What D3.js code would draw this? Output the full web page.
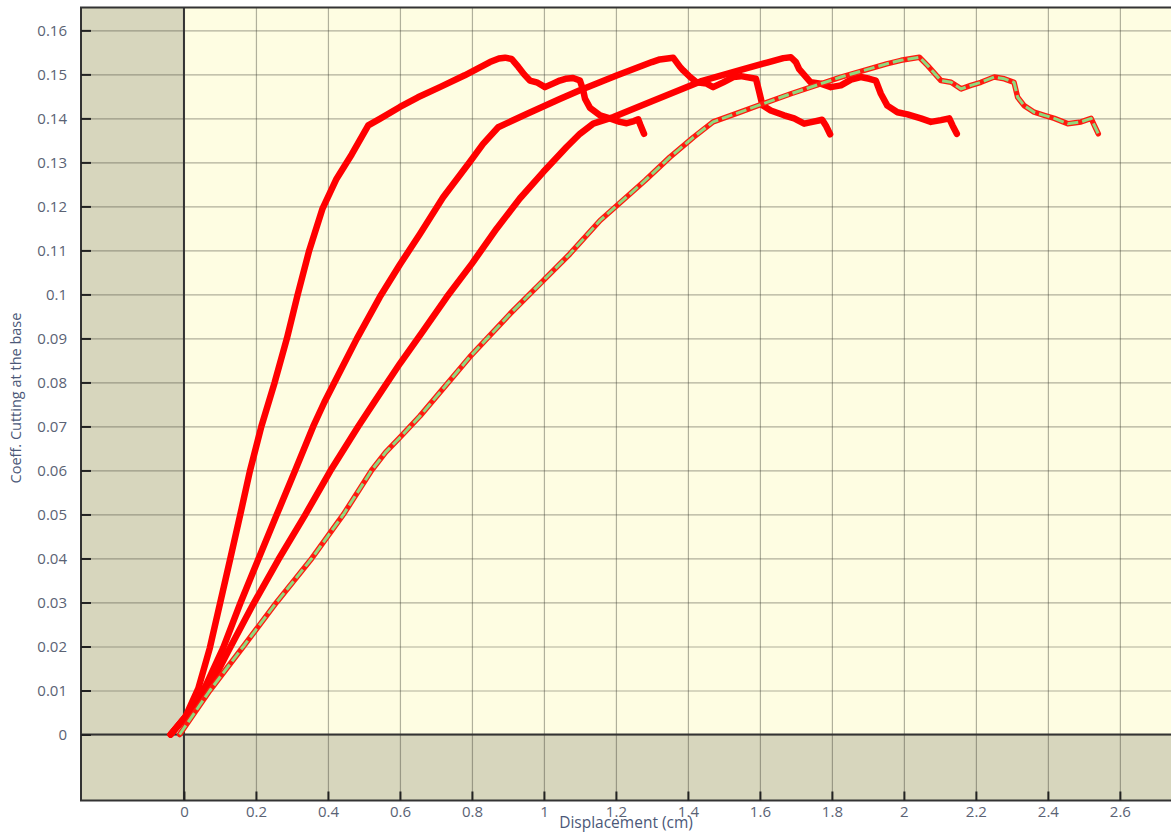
<!DOCTYPE html>
<html>
<head>
<meta charset="utf-8">
<script src="https://cdn.jsdelivr.net/npm/d3@7"></script>
<style>
  body { margin: 0; background: #ffffff; }
  svg { display: block; }
  text { font-family: "Open Sans", "Noto Sans", "DejaVu Sans", sans-serif; }
</style>
</head>
<body>
<svg id="chart" width="1171" height="836"></svg>
<script>
// Axis ticks and their labels
const xTicks = [0, 0.2, 0.4, 0.6, 0.8, 1, 1.2, 1.4, 1.6, 1.8, 2, 2.2, 2.4, 2.6];
const xTickLabels = ["0", "0.2", "0.4", "0.6", "0.8", "1", "1.2", "1.4", "1.6", "1.8", "2", "2.2", "2.4", "2.6"];
const yTicks = [0, 0.01, 0.02, 0.03, 0.04, 0.05, 0.06, 0.07, 0.08, 0.09, 0.1, 0.11, 0.12, 0.13, 0.14, 0.15, 0.16];
const yTickLabels = ["0", "0.01", "0.02", "0.03", "0.04", "0.05", "0.06", "0.07", "0.08", "0.09", "0.1", "0.11", "0.12", "0.13", "0.14", "0.15", "0.16"];
const xTitle = "Displacement (cm)";
const yTitle = "Coeff. Cutting at the base";

// Load–displacement runs: [displacement (cm), coefficient]
const run1 = [
  [-0.037, 0], [0.004, 0.004], [0.04, 0.0105], [0.072, 0.0197], [0.1, 0.0297], [0.128, 0.0397],
  [0.156, 0.0498], [0.183, 0.0598], [0.215, 0.07], [0.252, 0.08], [0.286, 0.09], [0.316, 0.1],
  [0.348, 0.11], [0.385, 0.1195], [0.424, 0.1263], [0.466, 0.1318], [0.512, 0.1384],
  [0.544, 0.1399], [0.6, 0.1426], [0.65, 0.1448], [0.711, 0.1471], [0.78, 0.1498], [0.85, 0.1528],
  [0.875, 0.1536], [0.892, 0.1538], [0.91, 0.1535], [0.929, 0.1517], [0.945, 0.15], [0.961, 0.1486],
  [0.98, 0.1482], [1.003, 0.1471], [1.025, 0.1479], [1.044, 0.1486], [1.06, 0.149], [1.081, 0.1492],
  [1.1, 0.1486], [1.109, 0.1464], [1.114, 0.1445], [1.128, 0.1424], [1.156, 0.1407], [1.183, 0.14],
  [1.211, 0.1392], [1.23, 0.1389], [1.25, 0.1394], [1.262, 0.1398], [1.268, 0.1385], [1.278, 0.1365]
];
const run2 = [
  [-0.037, 0], [0.004, 0.004], [0.06, 0.011], [0.109, 0.0197], [0.156, 0.0297], [0.206, 0.0397],
  [0.257, 0.0498], [0.308, 0.0598], [0.359, 0.07], [0.39, 0.0755], [0.44, 0.0835], [0.48, 0.0899],
  [0.544, 0.0994], [0.6, 0.1068], [0.656, 0.1138], [0.72, 0.1221], [0.794, 0.1301], [0.831, 0.1342],
  [0.873, 0.138], [0.952, 0.141], [1.044, 0.1444], [1.1, 0.1464], [1.2, 0.1497], [1.3, 0.1528],
  [1.322, 0.1534], [1.359, 0.1538], [1.378, 0.1517], [1.387, 0.1509], [1.406, 0.1494], [1.424, 0.1482],
  [1.452, 0.1479], [1.47, 0.1471], [1.498, 0.1482], [1.526, 0.1494], [1.547, 0.1496], [1.589, 0.149],
  [1.597, 0.1464], [1.607, 0.143], [1.63, 0.1418], [1.667, 0.1407], [1.695, 0.14], [1.723, 0.1388],
  [1.746, 0.1392], [1.773, 0.1397], [1.783, 0.1384], [1.795, 0.1364]
];
const run3 = [
  [-0.037, 0], [0.004, 0.004], [0.063, 0.0094], [0.128, 0.0197], [0.193, 0.0297], [0.262, 0.0397],
  [0.336, 0.0498], [0.406, 0.0598], [0.484, 0.07], [0.53, 0.0757], [0.6, 0.0843], [0.665, 0.0918],
  [0.73, 0.0994], [0.8, 0.107], [0.869, 0.115], [0.933, 0.1218], [0.998, 0.1278], [1.063, 0.1335],
  [1.1, 0.1365], [1.137, 0.1388], [1.193, 0.1403], [1.3, 0.1439], [1.435, 0.1484], [1.547, 0.151],
  [1.62, 0.1527], [1.665, 0.1537], [1.686, 0.1539], [1.7, 0.1528], [1.709, 0.1512], [1.741, 0.1482],
  [1.769, 0.1479], [1.797, 0.1471], [1.825, 0.1475], [1.853, 0.1488], [1.88, 0.1494], [1.904, 0.149],
  [1.922, 0.1486], [1.936, 0.1456], [1.954, 0.1429], [1.982, 0.1414], [2.01, 0.1409], [2.047, 0.14],
  [2.075, 0.1392], [2.103, 0.1396], [2.126, 0.14], [2.135, 0.1384], [2.147, 0.1365]
];
const run4 = [
  [-0.012, 0], [0.072, 0.01], [0.165, 0.02], [0.257, 0.03], [0.355, 0.04], [0.443, 0.05],
  [0.521, 0.06], [0.56, 0.0641], [0.6, 0.0675], [0.656, 0.0724], [0.794, 0.0858], [0.906, 0.0956],
  [0.989, 0.1024], [1.072, 0.1092], [1.156, 0.1168], [1.281, 0.1259], [1.35, 0.1312], [1.415, 0.1357],
  [1.47, 0.1392], [1.547, 0.1415], [1.686, 0.1456], [1.825, 0.1494], [1.952, 0.1524], [1.992, 0.1532],
  [2.043, 0.1539], [2.066, 0.152], [2.103, 0.1486], [2.131, 0.1482], [2.159, 0.1467], [2.186, 0.1475],
  [2.214, 0.1482], [2.251, 0.1494], [2.279, 0.149], [2.306, 0.1482], [2.316, 0.1448], [2.334, 0.1429],
  [2.362, 0.1414], [2.39, 0.1407], [2.418, 0.14], [2.455, 0.1388], [2.492, 0.1392], [2.52, 0.14],
  [2.529, 0.1384], [2.54, 0.1365]
];

const svg = d3.select("#chart");
const plot = { left: 81, top: 7.5, right: 1171, bottom: 800.5 };

const x = d3.scaleLinear().domain([-0.286, 2.742]).range([plot.left, plot.right]);
const y = d3.scaleLinear().domain([-0.015, 0.1652]).range([plot.bottom, plot.top]);

const khaki = "#d7d6bd";
const cream = "#fefde2";
const ink = "#333333";
const labelColor = "#5a6274";

// Backgrounds: khaki everywhere, cream in the positive quadrant
svg.append("rect")
  .attr("x", plot.left).attr("y", plot.top)
  .attr("width", plot.right - plot.left + 10).attr("height", plot.bottom - plot.top)
  .attr("fill", khaki);
svg.append("rect")
  .attr("x", x(0)).attr("y", plot.top)
  .attr("width", plot.right - x(0) + 10).attr("height", y(0) - plot.top)
  .attr("fill", cream);

// Grid lines
const gridColor = "rgba(60,60,50,0.40)";
svg.append("g")
  .attr("transform", `translate(0,${plot.bottom})`)
  .call(d3.axisBottom(x).tickValues(xTicks).tickSize(-(plot.bottom - plot.top)).tickFormat(""))
  .call(g => g.select(".domain").remove())
  .call(g => g.selectAll("line").attr("stroke", gridColor).attr("stroke-width", 1.2));
svg.append("g")
  .attr("transform", `translate(${plot.left},0)`)
  .call(d3.axisLeft(y).tickValues(yTicks).tickSize(-(plot.right - plot.left + 10)).tickFormat(""))
  .call(g => g.select(".domain").remove())
  .call(g => g.selectAll("line").attr("stroke", gridColor).attr("stroke-width", 1.2));

// Zero axes
svg.append("line")
  .attr("x1", x(0)).attr("x2", x(0)).attr("y1", plot.top).attr("y2", plot.bottom)
  .attr("stroke", ink).attr("stroke-width", 2);
svg.append("line")
  .attr("x1", plot.left).attr("x2", plot.right + 10).attr("y1", y(0)).attr("y2", y(0))
  .attr("stroke", ink).attr("stroke-width", 2);

// Curves
const line = d3.line().x(d => x(d[0])).y(d => y(d[1]));
const curves = svg.append("g").attr("fill", "none")
  .attr("stroke-linejoin", "round").attr("stroke-linecap", "round");
[run1, run2, run3].forEach(run => {
  curves.append("path").datum(run).attr("d", line)
    .attr("stroke", "#ff0000").attr("stroke-width", 6.5);
});
curves.append("path").datum(run4).attr("d", line)
  .attr("stroke", "#ff1a10").attr("stroke-width", 5.5);
curves.append("path").datum(run4).attr("d", line)
  .attr("stroke", "#8fda7e").attr("stroke-width", 3)
  .attr("stroke-linecap", "butt").attr("stroke-dasharray", "11,4");

// Plot frame (top, left, bottom)
svg.append("path")
  .attr("d", `M${plot.right + 10},${plot.top} H${plot.left} V${plot.bottom} H${plot.right + 10}`)
  .attr("fill", "none").attr("stroke", ink).attr("stroke-width", 2);

// Tick marks on the frame, pointing inward
svg.append("g")
  .attr("transform", `translate(${plot.left},0)`)
  .call(d3.axisRight(y).tickValues(yTicks).tickSize(10).tickFormat(""))
  .call(g => g.select(".domain").remove())
  .call(g => g.selectAll("line").attr("stroke", "#222").attr("stroke-width", 2));
svg.append("g")
  .attr("transform", `translate(0,${plot.bottom})`)
  .call(d3.axisTop(x).tickValues(xTicks).tickSize(9).tickFormat(""))
  .call(g => g.select(".domain").remove())
  .call(g => g.selectAll("line").attr("stroke", "#222").attr("stroke-width", 2));

// Tick labels
svg.append("g")
  .attr("transform", `translate(${plot.left},0)`)
  .call(d3.axisLeft(y).tickValues(yTicks).tickSize(0).tickPadding(14)
    .tickFormat((d, i) => yTickLabels[i]))
  .call(g => g.select(".domain").remove())
  .call(g => g.selectAll("text").attr("fill", labelColor)
    .style("font-size", "15px").style("font-family", '"Open Sans", sans-serif'));
svg.append("g")
  .attr("transform", `translate(0,${plot.bottom})`)
  .call(d3.axisBottom(x).tickValues(xTicks).tickSize(0).tickPadding(6)
    .tickFormat((d, i) => xTickLabels[i]))
  .call(g => g.select(".domain").remove())
  .call(g => g.selectAll("text").attr("fill", labelColor)
    .style("font-size", "15px").style("font-family", '"Open Sans", sans-serif'));

// Axis titles
svg.append("text")
  .attr("x", (plot.left + plot.right) / 2).attr("y", 828)
  .attr("text-anchor", "middle")
  .attr("fill", "#4b5878").style("font-size", "15.5px")
  .text(xTitle);
svg.append("text")
  .attr("transform", `translate(21,${(plot.top + plot.bottom) / 2 - 6}) rotate(-90)`)
  .attr("text-anchor", "middle")
  .attr("fill", "#4b5878").style("font-size", "14.5px")
  .text(yTitle);
</script>
</body>
</html>
